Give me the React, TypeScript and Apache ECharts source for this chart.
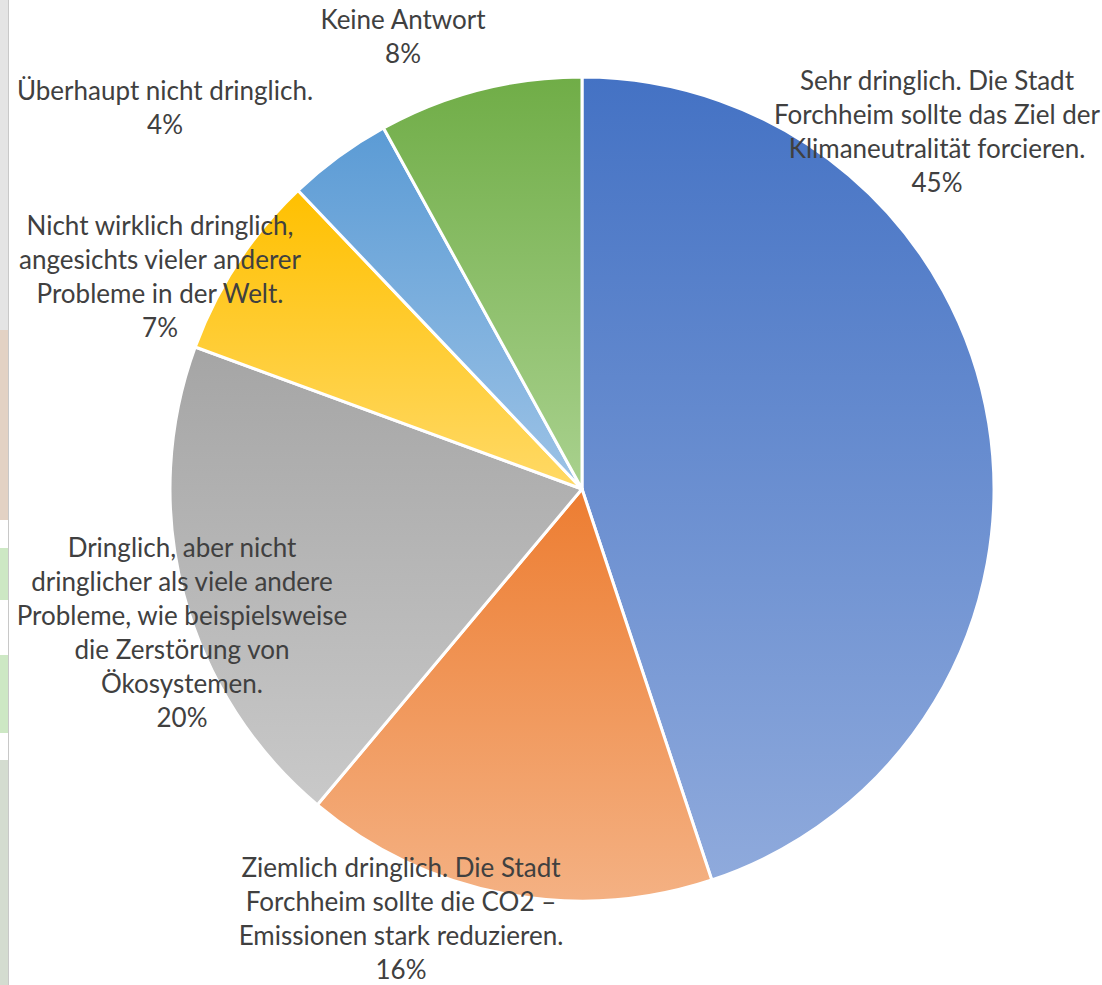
import React, { useEffect, useRef } from "react";
import * as echarts from "echarts";

const categories = [
  "Sehr dringlich. Die Stadt\nForchheim sollte das Ziel der\nKlimaneutralität forcieren.",
  "Ziemlich dringlich. Die Stadt\nForchheim sollte die CO2 –\nEmissionen stark reduzieren.",
  "Dringlich, aber nicht\ndringlicher als viele andere\nProbleme, wie beispielsweise\ndie Zerstörung von\nÖkosystemen.",
  "Nicht wirklich dringlich,\nangesichts vieler anderer\nProbleme in der Welt.",
  "Überhaupt nicht dringlich.",
  "Keine Antwort",
];
// shares; labels show them rounded
const values = [44.9, 16.2, 19.5, 7.3, 4.1, 8.0];
const topColors = ["#4472C4", "#ED7D31", "#A5A5A5", "#FFC000", "#5B9BD5", "#70AD47"];
const bottomColors = ["#8FAADC", "#F4B183", "#C9C9C9", "#FFD966", "#9DC3E6", "#A9D18E"];
const labelPos: [number, number][] = [
  [937, 131],
  [401, 918],
  [182, 632],
  [160, 276],
  [165, 107],
  [403, 36],
];

export default function App() {
  const ref = useRef<HTMLDivElement>(null);
  useEffect(() => {
    document.body.style.margin = "0";
    const chart = echarts.init(ref.current!, undefined, { renderer: "svg" });
    chart.setOption({
      animation: false,
      backgroundColor: "#ffffff",
      graphic: [
        { type: "rect", shape: { x: 0, y: 0, width: 8, height: 330 }, style: { fill: "#e4e4e4" }, silent: true },
        { type: "rect", shape: { x: 0, y: 330, width: 8, height: 190 }, style: { fill: "#e3d2c4" }, silent: true },
        { type: "rect", shape: { x: 0, y: 548, width: 8, height: 52 }, style: { fill: "#cde8c4" }, silent: true },
        { type: "rect", shape: { x: 0, y: 655, width: 8, height: 78 }, style: { fill: "#cde8c4" }, silent: true },
        { type: "rect", shape: { x: 0, y: 760, width: 8, height: 225 }, style: { fill: "#d4dcd0" }, silent: true },
        { type: "line", shape: { x1: 8.5, y1: 0, x2: 8.5, y2: 985 }, style: { stroke: "#c8c8c8", lineWidth: 1 }, silent: true },
      ],
      series: [
        {
          type: "pie",
          center: [582, 489],
          radius: [0, 412],
          startAngle: 90,
          clockwise: true,
          avoidLabelOverlap: false,
          itemStyle: { borderColor: "#ffffff", borderWidth: 3 },
          label: {
            show: true,
            position: "outside",
            formatter: (p: any) => `${p.name}\n${Math.round(p.value)}%`,
            color: "#404040",
            fontSize: 26,
            lineHeight: 34,
            fontFamily: "Lato",
            align: "center",
          },
          labelLine: { show: false },
          labelLayout: (p: any) => ({
            x: labelPos[p.dataIndex][0],
            y: labelPos[p.dataIndex][1],
            align: "center",
            verticalAlign: "middle",
          }),
          data: categories.map((name, i) => ({
            name,
            value: values[i],
            itemStyle: {
              color: new echarts.graphic.LinearGradient(0, 0, 0, 1, [
                { offset: 0, color: topColors[i] },
                { offset: 1, color: bottomColors[i] },
              ]),
            },
          })),
        },
      ],
    });
    return () => chart.dispose();
  }, []);
  return <div ref={ref} style={{ width: 1102, height: 985 }} />;
}
